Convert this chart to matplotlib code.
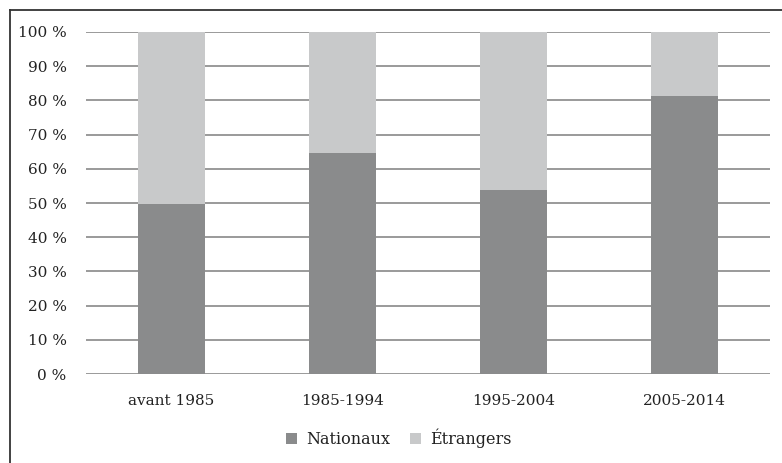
import numpy as np
import matplotlib.pyplot as plt
from matplotlib.lines import Line2D

plt.rcParams['font.family'] = ['DejaVu Serif']

periodes = ['avant 1985', '1985-1994', '1995-2004', '2005-2014']
nationaux = [49.7, 64.5, 53.7, 81.2]
etrangers = [100 - v for v in nationaux]
yticks = [0, 10, 20, 30, 40, 50, 60, 70, 80, 90, 100]

fig = plt.figure(figsize=(7.82, 4.63), dpi=100)
ax = fig.add_axes([0.110, 0.192, 0.875, 0.739])

x = np.arange(len(periodes))
ax.bar(x, nationaux, width=0.39, color='#8a8b8c', label='Nationaux', zorder=2)
ax.bar(x, etrangers, width=0.39, bottom=nationaux, color='#c8c9ca', label='Étrangers', zorder=2)

ax.set_xlim(-0.5, len(periodes) - 0.5)
ax.set_ylim(0, 100)
ax.set_yticks(yticks)
ax.set_yticklabels([f'{v} %' for v in yticks])
ax.set_xticks(x)
ax.set_xticklabels(periodes)
ax.yaxis.grid(True, color='#9a9a9a', linewidth=1.4, zorder=1)
ax.set_axisbelow(True)
ax.tick_params(axis='both', length=0, labelsize=11, colors='#222222')
ax.tick_params(axis='y', pad=14)
ax.tick_params(axis='x', pad=14)
for s in ax.spines.values():
    s.set_visible(False)

ax.legend(loc='center', bbox_to_anchor=(0.457, -0.187), ncol=2, frameon=False,
          fontsize=11.5, handlelength=0.7, handleheight=0.7, handletextpad=0.6,
          columnspacing=1.2, labelcolor='#222222')

# cadre autour de la figure
fig.add_artist(Line2D([9.5 / 782, 9.5 / 782], [0, 1 - 9.5 / 463], color='#333333', lw=1.3))
fig.add_artist(Line2D([9.5 / 782, 1], [1 - 9.5 / 463, 1 - 9.5 / 463], color='#333333', lw=1.3))

fig.savefig('out.png', dpi=100)
